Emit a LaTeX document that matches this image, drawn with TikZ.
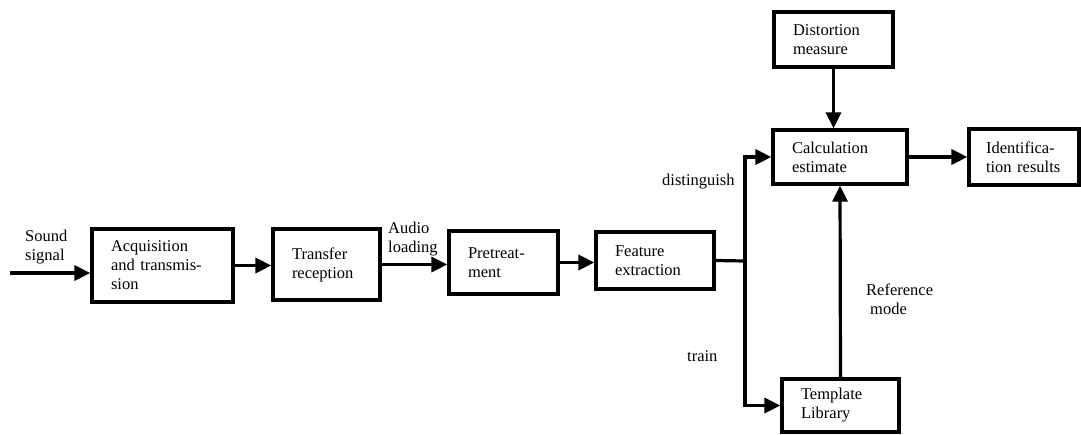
\documentclass[tikz,border=0pt]{standalone}
\usepackage{fontspec}
\setmainfont{Liberation Serif}
\usetikzlibrary{arrows.meta}
\begin{document}
\begin{tikzpicture}[x=1pt,y=-1pt,
  box/.style={draw=black, line width=3.2pt, rectangle, inner xsep=19pt, inner ysep=0pt,
    align=left, font=\fontsize{16.5}{19}\selectfont},
  lbl/.style={align=left, inner sep=0pt, font=\fontsize{16.5}{19}\selectfont},
  arr/.style={line width=3.2pt, -{Triangle[length=16pt,width=15pt]}},
  wire/.style={line width=3.2pt}]
\useasboundingbox (0,0) rectangle (1081,434);

% processing chain
\node[box, minimum width=141pt, minimum height=73pt, text width=103pt] (acq) at (162.5,265.5) {Acquisition\\and transmis-\\sion};
\node[box, minimum width=107pt, minimum height=71pt, text width=69pt] (trans) at (326.5,264.5) {Transfer\\reception};
\node[box, minimum width=109pt, minimum height=63pt, text width=71pt] (pre) at (503.5,262.5) {Pretreat-\\ment};
\node[box, minimum width=118pt, minimum height=57pt, text width=80pt] (feat) at (655,260.5) {Feature\\extraction};
\node[box, minimum width=134pt, minimum height=54pt, text width=96pt] (calc) at (840,157) {Calculation\\estimate};
\node[box, minimum width=119pt, minimum height=55pt, text width=81pt] (dist) at (833.5,39.5) {Distortion\\measure};
\node[box, minimum width=110pt, minimum height=56pt, text width=76pt, inner xsep=17pt] (ident) at (1024,157) {\mbox{Identifica-}\\\mbox{tion results}};
\node[box, minimum width=117pt, minimum height=53pt, text width=79pt] (templ) at (840.5,405.5) {Template\\Library};

% labels
\node[lbl, anchor=west] (lsnd) at (25,247) {Sound\\signal};
\node[lbl, anchor=west] (laud) at (388,239) {Audio\\loading};
\node[lbl, anchor=west] (ldis) at (662,182) {distinguish};
\node[lbl, anchor=west] (ltrn) at (687,356) {train};
\node[lbl, anchor=west] (lref) at (866,299) {Reference\\\hspace*{4pt}mode};

% connectors
\coordinate (snd) at (10,273);
\coordinate (br) at (745,261);
\draw[arr] (snd) -- (snd -| acq.west);
\draw[arr] (acq.east) -- (acq.east -| trans.west);
\draw[arr] (trans.east) -- (trans.east -| pre.west);
\draw[arr] (pre.east) -- (pre.east -| feat.west);
\draw[wire] (feat.east) -- (br);
\draw[arr] (br) |- (calc.west);
\draw[arr] (br) |- (templ.west);
\draw[arr] (dist.south) -- (dist.south |- calc.north);
\draw[arr] (templ.north) -- (calc.south);
\draw[arr] (calc.east) -- (ident.west);
\end{tikzpicture}
\end{document}
